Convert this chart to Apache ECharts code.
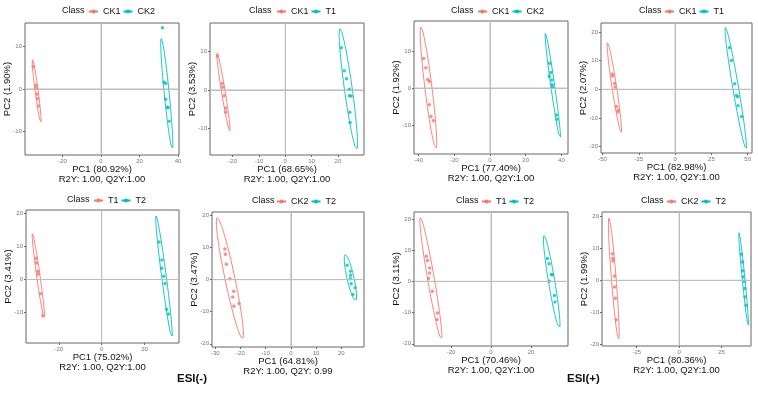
<!DOCTYPE html>
<html>
<head>
<meta charset="utf-8">
<script src="https://cdn.jsdelivr.net/npm/echarts@6/dist/echarts.min.js"></script>
<style>
  html, body { margin: 0; padding: 0; background: #fff; }
  #chart { width: 758px; height: 393px; }
</style>
</head>
<body>
<div id="chart"></div>
<script>
  // class names per panel (A = red group, B = cyan group)
  var classA = ['CK1', 'CK1', 'CK1', 'CK1', 'T1', 'CK2', 'T1', 'CK2'];
  var classB = ['CK2', 'T1', 'CK2', 'T1', 'T2', 'T2', 'T2', 'T2'];

  var pc1Names = ['PC1 (80.92%)', 'PC1 (68.65%)', 'PC1 (77.40%)', 'PC1 (82.98%)',
                  'PC1 (75.02%)', 'PC1 (64.81%)', 'PC1 (70.46%)', 'PC1 (80.36%)'];
  var pc2Names = ['PC2 (1.90%)', 'PC2 (3.53%)', 'PC2 (1.92%)', 'PC2 (2.07%)',
                  'PC2 (3.41%)', 'PC2 (3.47%)', 'PC2 (3.11%)', 'PC2 (1.99%)'];
  var fitNames = ['R2Y: 1.00, Q2Y:1.00', 'R2Y: 1.00, Q2Y:1.00', 'R2Y: 1.00, Q2Y:1.00', 'R2Y: 1.00, Q2Y:1.00',
                  'R2Y: 1.00, Q2Y:1.00', 'R2Y: 1.00, Q2Y: 0.99', 'R2Y: 1.00, Q2Y:1.00', 'R2Y: 1.00, Q2Y:1.00'];

  var xTicks = [[-20, 0, 20, 40], [-20, -10, 0, 10, 20], [-40, -20, 0, 20, 40], [-50, -25, 0, 25, 50],
                [-20, 0, 20], [-30, -20, -10, 0, 10, 20], [-20, 0, 20], [-25, 0, 25]];
  var yTicks = [[-10, 0, 10], [-10, 0, 10], [-10, 0, 10], [-20, -10, 0, 10, 20],
                [-10, 0, 10, 20], [-20, -10, 0, 10, 20], [-20, -10, 0, 10, 20], [-20, -10, 0, 10, 20]];
  var xRange = [[-39.5, 40.5], [-28.6, 29.9], [-42.6, 43.7], [-51.1, 53],
                [-35.3, 36.1], [-31.3, 29], [-38.5, 38.5], [-45.5, 42.4]];
  var yRange = [[-15.5, 15.5], [-17, 17.5], [-17.8, 18.1], [-22.2, 23.1],
                [-19.2, 21], [-21, 21.1], [-20.7, 22.2], [-20.5, 21.3]];

  var pointsA = [
    [[-35.3, 5.2], [-33.9, 0.9], [-33.7, 0.2], [-33.2, -1.2], [-33.0, -2.3], [-32.5, -4.0]],
    [[-25.8, 8.9], [-24.0, 1.7], [-23.8, 0.7], [-23.2, -1.5], [-22.7, -4.7], [-22.6, -5.8]],
    [[-37.2, 8.0], [-36.0, 5.5], [-34.9, 2.3], [-34.0, 1.8], [-34.0, -4.5], [-33.1, -7.7], [-31.8, -8.8]],
    [[-43.4, 5.3], [-43.0, 4.6], [-41.7, 2.0], [-41.4, 0.8], [-40.5, -6.0], [-39.3, -7.3], [-39.5, -7.9]],
    [[-30.7, 6.4], [-30.4, 5.0], [-29.8, 2.5], [-29.7, 1.6], [-28.6, -4.3], [-27.5, -11.0]],
    [[-26.2, 9.6], [-26.0, 7.9], [-25.6, 4.8], [-24.2, 0.3], [-22.7, -3.6], [-23.1, -5.4], [-22.6, -8.3], [-20.6, -7.4]],
    [[-32.3, 8.0], [-31.7, 6.7], [-30.7, 4.3], [-30.7, 2.7], [-31.2, 0.9], [-29.3, -3.2], [-26.8, -10.1], [-27.0, -12.2]],
    [[-39.4, 8.3], [-39.2, 6.8], [-39.0, 6.0], [-38.1, 1.3], [-38.1, -2.1], [-37.7, -5.6], [-37.1, -12.3]]
  ];
  var pointsB = [
    [[31.9, 14.4], [32.7, 1.6], [33.6, 1.3], [33.6, -2.4], [34.5, -4.3], [34.8, -4.4], [35.4, -7.6]],
    [[21.3, 11.0], [22.4, 5.0], [23.3, 2.9], [24.3, 0.2], [24.3, -1.5], [25.0, -1.6], [24.5, -5.8], [24.6, -8.5]],
    [[33.4, 6.7], [34.1, 4.2], [33.2, 3.2], [34.6, 2.2], [34.8, 0.9], [35.0, 0.3], [37.2, -7.3], [37.6, -8.4]],
    [[37.5, 14.5], [38.8, 10.0], [41.1, 1.9], [42.2, -2.2], [43.2, -2.6], [43.4, -5.7], [45.9, -9.5]],
    [[26.8, 11.3], [28.1, 5.9], [28.1, 3.4], [29.0, 1.0], [29.6, -1.2], [30.3, -9.0], [31.2, -10.4]],
    [[22.3, 4.5], [23.6, 2.6], [23.7, 1.4], [23.6, 0.3], [23.9, -1.3], [25.5, -2.5], [24.6, -4.6]],
    [[28.2, 7.3], [29.0, 5.6], [30.2, 2.2], [30.7, 2.1], [29.2, 0.0], [31.7, -4.5], [32.0, -6.6]],
    [[36.7, 8.1], [37.4, 5.7], [37.6, 3.0], [37.8, 1.1], [38.4, -0.3], [38.8, -2.6], [38.9, -5.2], [39.5, -7.8]]
  ];

  // confidence ellipse: [top x, top y, bottom x, bottom y, half width in PC1 units]
  var ellipseA = [
    [-35.6, 6.9, -31.3, -7.8, 0.8], [-25.9, 9.6, -21.1, -10.7, 0.7],
    [-38.7, 16.4, -30.3, -16.3, 2.0], [-46.6, 16.2, -37.2, -15.0, 1.6],
    [-32.3, 13.8, -26.7, -12.0, 0.8], [-29.2, 19.3, -19.2, -18.4, 2.0],
    [-35.3, 20.4, -24.8, -18.6, 1.7], [-41.4, 19.4, -35.7, -18.5, 1.4]
  ];
  var ellipseB = [
    [31.3, 11.8, 37.0, -14.0, 1.3], [20.8, 16.0, 27.1, -15.5, 1.5],
    [31.0, 14.8, 39.4, -13.9, 1.1], [34.7, 21.5, 48.9, -20.8, 2.0],
    [25.4, 19.2, 32.8, -17.6, 1.1], [21.6, 7.8, 25.6, -6.5, 1.4],
    [26.5, 14.7, 34.2, -15.0, 1.6], [35.3, 14.9, 40.8, -14.3, 0.8]
  ];

  var colorA = '#F8766D';
  var colorB = '#00BFC4';

  // panel boxes [left, top, width, height] and legend spots [class x, legend x, middle y]
  var boxes = [[25, 23, 154, 132], [210, 23, 154, 132], [414, 21, 154, 133], [601, 23, 151, 130],
               [26, 210, 153, 133], [212, 212, 152, 135], [414, 212, 154, 134], [602, 212, 149, 134]];
  var legendSpots = [[62, 88, 11], [249, 276, 11], [451, 477, 11], [639, 664, 11],
                     [67, 93, 200], [252, 276, 201], [456, 481, 201], [641, 666, 201]];

  function ellipsePath(e) {
    var cx = (e[0] + e[2]) / 2, cy = (e[1] + e[3]) / 2;
    var ux = e[0] - cx, uy = e[1] - cy;
    var pts = [];
    for (var k = 0; k <= 80; k++) {
      var t = k / 80 * Math.PI * 2;
      pts.push([cx + ux * Math.cos(t) + e[4] * Math.sin(t), cy + uy * Math.cos(t)]);
    }
    return pts;
  }

  var grids = [], xAxes = [], yAxes = [], legends = [], titles = [], series = [];
  var zeroStyle = { color: '#bdbdbd', width: 1, type: 'solid' };

  for (var i = 0; i < 8; i++) {
    var b = boxes[i], l = legendSpots[i];
    var nameA = 'p' + i + '_' + classA[i];
    var nameB = 'p' + i + '_' + classB[i];

    grids.push({
      left: b[0], top: b[1], width: b[2], height: b[3],
      show: true, borderColor: '#666', borderWidth: 1
    });
    xAxes.push({
      type: 'value', gridIndex: i, min: xRange[i][0], max: xRange[i][1],
      name: pc1Names[i] + '\n' + fitNames[i], nameLocation: 'middle', nameGap: 9,
      nameMoveOverlap: false,
      nameTextStyle: { fontSize: 9.5, color: '#111', lineHeight: 10 },
      axisLine: { show: false, onZero: false },
      axisTick: { show: true, length: 2, customValues: xTicks[i], lineStyle: { color: '#666' } },
      axisLabel: { customValues: xTicks[i], fontSize: 6, color: '#777', margin: 3 },
      splitLine: { show: false }
    });
    yAxes.push({
      type: 'value', gridIndex: i, min: yRange[i][0], max: yRange[i][1],
      name: pc2Names[i], nameLocation: 'middle', nameGap: 13,
      nameMoveOverlap: false,
      nameTextStyle: { fontSize: 9.5, color: '#111' },
      axisLine: { show: false, onZero: false },
      axisTick: { show: true, length: 2, customValues: yTicks[i], lineStyle: { color: '#666' } },
      axisLabel: { customValues: yTicks[i], fontSize: 6, color: '#777', margin: 3 },
      splitLine: { show: false }
    });
    titles.push({
      text: 'Class', left: l[0], top: l[2] - 5, padding: 0,
      textStyle: { fontSize: 9, fontWeight: 'normal', color: '#111' }
    });
    legends.push({
      left: l[1], top: l[2] - 4, padding: 0, itemWidth: 9, itemHeight: 5, itemGap: 2,
      data: [nameA, nameB],
      formatter: function (n) { return n.split('_')[1]; },
      textStyle: { fontSize: 9, color: '#111' }
    });

    // zero reference lines (PC1 = 0 and PC2 = 0)
    series.push({
      type: 'line', name: 'zero' + i, xAxisIndex: i, yAxisIndex: i, silent: true, z: 1,
      showSymbol: false, symbol: 'none', connectNulls: false,
      data: [[0, yRange[i][0]], [0, yRange[i][1]], [null, null], [xRange[i][0], 0], [xRange[i][1], 0]],
      lineStyle: zeroStyle,
      markLine: {
        silent: true, symbol: ['none', 'none'], label: { show: false }, lineStyle: zeroStyle,
        data: [
          [{ coord: [0, yRange[i][0]] }, { coord: [0, yRange[i][1]] }],
          [{ coord: [xRange[i][0], 0] }, { coord: [xRange[i][1], 0] }]
        ]
      }
    });

    [[nameA, ellipseA[i], colorA], [nameB, ellipseB[i], colorB]].forEach(function (g) {
      series.push({
        type: 'line', name: g[0], xAxisIndex: i, yAxisIndex: i,
        data: ellipsePath(g[1]), showSymbol: false, symbol: 'circle', silent: true,
        lineStyle: { color: g[2], width: 0.9 }, itemStyle: { color: g[2] }
      });
    });
    series.push({
      type: 'scatter', name: nameA, xAxisIndex: i, yAxisIndex: i,
      data: pointsA[i], symbolSize: 3.5, itemStyle: { color: colorA }
    });
    series.push({
      type: 'scatter', name: nameB, xAxisIndex: i, yAxisIndex: i,
      data: pointsB[i], symbolSize: 3.5, itemStyle: { color: colorB }
    });
  }

  var myChart = echarts.init(document.getElementById('chart'));
  var option = {
    animation: false,
    backgroundColor: '#fff',
    textStyle: { fontFamily: 'Liberation Sans, Arial, sans-serif' },
    title: titles,
    legend: legends,
    grid: grids,
    xAxis: xAxes,
    yAxis: yAxes,
    series: series,
    graphic: [
      { type: 'text', left: 177, top: 373, style: { text: 'ESI(-)', fill: '#111', font: 'bold 11.5px Liberation Sans' } },
      { type: 'text', left: 567, top: 373, style: { text: 'ESI(+)', fill: '#111', font: 'bold 11.5px Liberation Sans' } }
    ]
  };
  option && myChart.setOption(option);
</script>
</body>
</html>
